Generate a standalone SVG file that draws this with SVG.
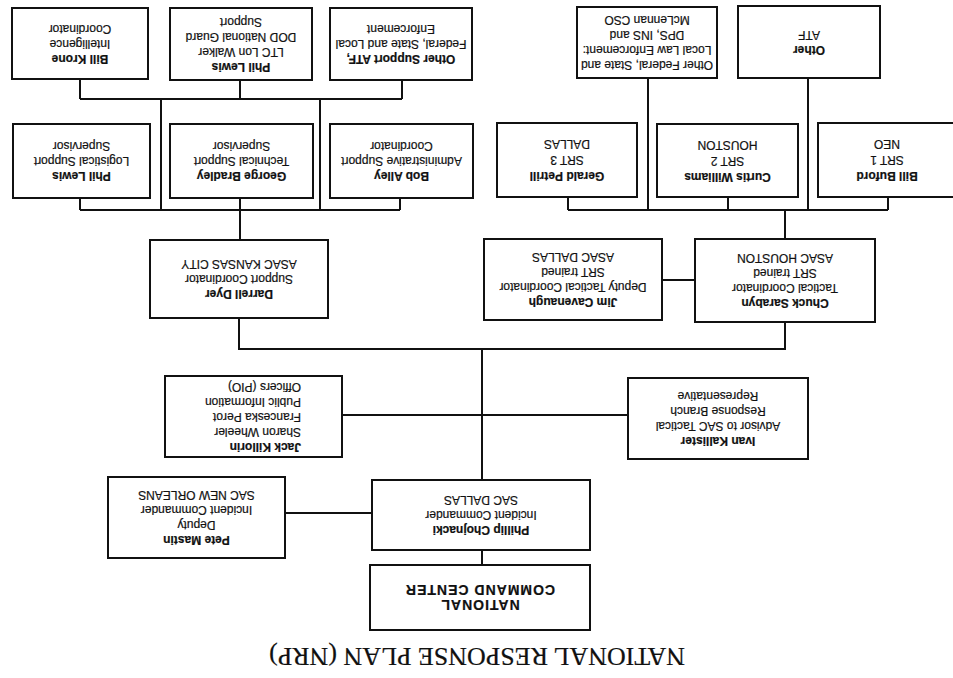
<svg xmlns="http://www.w3.org/2000/svg" width="953" height="678" viewBox="0 0 953 678">
<style>
.bx{fill:#fff;stroke:#111;stroke-width:2}
.ln{stroke:#111;stroke-width:2;fill:none}
text{font-family:"Liberation Sans",Arial,sans-serif;font-size:12px;fill:#111;text-anchor:middle;stroke:#111;stroke-width:0.2}
.b{font-weight:bold}
.ncc{font-size:14px;font-weight:bold;letter-spacing:1px}
.title{font-family:"Liberation Serif","Times New Roman",serif;font-size:26px}
.l{text-anchor:start}
</style>
<rect width="953" height="678" fill="#fff"/>
<g transform="rotate(180 476.5 339)">
<text class="title" x="476" y="30">NATIONAL RESPONSE PLAN (NRP)</text>
<g id="connectors">
<path class="ln" d="M873 599V579M713 598V579M551 598V579M551 579H873M792 579V468M633 579V468M873 480V468M713 480V468M553 480V468M553 468H873M713 468V438"/>
<path class="ln" d="M305 600V468M145 600V468M385 481V468M225 481V468M65 481V468M65 468H385M168 468V439M258 398H291"/>
<path class="ln" d="M168 356V329H714V360M471 329V198M471 263H611M325 263H471M581 165H668M471 128V113"/>
</g>
<g id="n1"><rect class="bx" x="805" y="599" width="136" height="71"/><text x="873" y="623.5"><tspan class="b" x="873">Bill Krone</tspan><tspan x="873" dy="15">Intelligence</tspan><tspan x="873" dy="15">Coordinator</tspan></text></g>
<g id="n2"><rect class="bx" x="641" y="598" width="142" height="72"/><text x="712" y="615.5"><tspan class="b" x="712">Phil Lewis</tspan><tspan x="712" dy="15">LTC Lon Walker</tspan><tspan x="712" dy="15">DOD National Guard</tspan><tspan x="712" dy="15">Support</tspan></text></g>
<g id="n3"><rect class="bx" x="481" y="598" width="142" height="72"/><text x="552" y="623"><tspan class="b" x="552">Other Support ATF,</tspan><tspan x="552" dy="15">Federal, State and Local</tspan><tspan x="552" dy="15">Enforcement</tspan></text></g>
<g id="n4"><rect class="bx" x="236" y="600" width="140" height="71"/><text x="306" y="617"><tspan x="306">Other Federal, State and</tspan><tspan x="306" dy="15">Local Law Enforcement:</tspan><tspan x="306" dy="15">DPS, INS and</tspan><tspan x="306" dy="15">McLennan CSO</tspan></text></g>
<g id="n5"><rect class="bx" x="73" y="600" width="142" height="72"/><text x="144" y="632.5"><tspan class="b" x="144">Other</tspan><tspan x="144" dy="15">ATF</tspan></text></g>
<g id="n6"><rect class="bx" x="803" y="480" width="137" height="74"/><text x="871.5" y="506"><tspan class="b" x="871.5">Phil Lewis</tspan><tspan x="871.5" dy="15">Logistical Support</tspan><tspan x="871.5" dy="15">Supervisor</tspan></text></g>
<g id="n7"><rect class="bx" x="640" y="480" width="143" height="74"/><text x="711.5" y="506"><tspan class="b" x="711.5">George Bradley</tspan><tspan x="711.5" dy="15">Technical Support</tspan><tspan x="711.5" dy="15">Supervisor</tspan></text></g>
<g id="n8"><rect class="bx" x="480" y="480" width="143" height="74"/><text x="551.5" y="506"><tspan class="b" x="551.5">Bob Alley</tspan><tspan x="551.5" dy="15">Administrative Support</tspan><tspan x="551.5" dy="15">Coordinator</tspan></text></g>
<g id="n9"><rect class="bx" x="316" y="481" width="140" height="74"/><text x="386" y="506"><tspan class="b" x="386">Gerald Petrill</tspan><tspan x="386" dy="16">SRT 3</tspan><tspan x="386" dy="16">DALLAS</tspan></text></g>
<g id="n10"><rect class="bx" x="155" y="481" width="141" height="73"/><text x="225.5" y="505.5"><tspan class="b" x="225.5">Curtis Williams</tspan><tspan x="225.5" dy="16">SRT 2</tspan><tspan x="225.5" dy="16">HOUSTON</tspan></text></g>
<g id="n11"><rect class="bx" x="-5" y="481" width="140" height="74"/><text x="66" y="506"><tspan class="b" x="66">Bill Buford</tspan><tspan x="66" dy="16">SRT 1</tspan><tspan x="66" dy="16">NEO</tspan></text></g>
<g id="n12"><rect class="bx" x="625" y="360" width="178" height="78"/><text x="714" y="388"><tspan class="b" x="714">Darrell Dyer</tspan><tspan x="714" dy="15">Support Coordinator</tspan><tspan x="714" dy="15">ASAC KANSAS CITY</tspan></text></g>
<g id="n13"><rect class="bx" x="291" y="358" width="178" height="81"/><text x="380" y="380"><tspan class="b" x="380">Jim Cavenaugh</tspan><tspan x="380" dy="15">Deputy Tactical Coordinator</tspan><tspan x="380" dy="15">SRT trained</tspan><tspan x="380" dy="15">ASAC DALLAS</tspan></text></g>
<g id="n14"><rect class="bx" x="78" y="356" width="180" height="83"/><text x="168" y="379"><tspan class="b" x="168">Chuck Sarabyn</tspan><tspan x="168" dy="15">Tactical Coordinator</tspan><tspan x="168" dy="15">SRT trained</tspan><tspan x="168" dy="15">ASAC HOUSTON</tspan></text></g>
<g id="n15"><rect class="bx" x="611" y="221" width="177" height="81"/><text class="l" x="652" y="235.5"><tspan class="b" x="652">Jack Killorin</tspan><tspan x="652" dy="15">Sharon Wheeler</tspan><tspan x="652" dy="15">Franceska Perot</tspan><tspan x="652" dy="15">Public Information</tspan><tspan x="652" dy="15">Officers (PIO)</tspan></text></g>
<g id="n16"><rect class="bx" x="145" y="219" width="180" height="81"/><text x="235" y="241"><tspan class="b" x="235">Ivan Kallister</tspan><tspan x="235" dy="15">Advisor to SAC Tactical</tspan><tspan x="235" dy="15">Response Branch</tspan><tspan x="235" dy="15">Representative</tspan></text></g>
<g id="n17"><rect class="bx" x="668" y="120" width="177" height="81"/><text x="756.5" y="142"><tspan class="b" x="756.5">Pete Mastin</tspan><tspan x="756.5" dy="15">Deputy</tspan><tspan x="756.5" dy="15">Incident Commander</tspan><tspan x="756.5" dy="15">SAC NEW ORLEANS</tspan></text></g>
<g id="n18"><rect class="bx" x="363" y="128" width="218" height="70"/><text x="472" y="152"><tspan class="b" x="472">Phillip Chojnacki</tspan><tspan x="472" dy="15">Incident Commander</tspan><tspan x="472" dy="15">SAC DALLAS</tspan></text></g>
<g id="n19"><rect class="bx" x="363" y="48" width="220" height="65"/><text class="ncc" x="473" y="78"><tspan x="473">NATIONAL</tspan><tspan x="473" dy="15">COMMAND CENTER</tspan></text></g>
</g>
</svg>
